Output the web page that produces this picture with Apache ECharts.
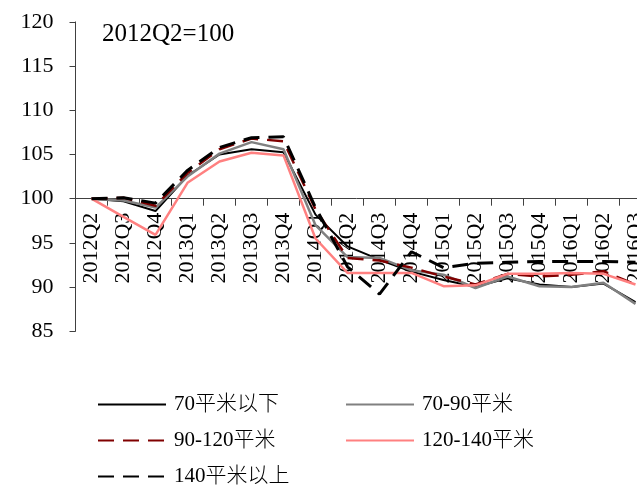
<!DOCTYPE html>
<html>
<head>
<meta charset="utf-8">
<script src="https://cdn.jsdelivr.net/npm/echarts@6/dist/echarts.min.js"></script>
<style>
html,body{margin:0;padding:0;background:#fff;}
#main{width:637px;height:485px;}
</style>
</head>
<body>
<div id="main"></div>
<script>
var categories = ['2012Q2','2012Q3','2012Q4','2013Q1','2013Q2','2013Q3','2013Q4','2014Q1','2014Q2','2014Q3','2014Q4','2015Q1','2015Q2','2015Q3','2015Q4','2016Q1','2016Q2','2016Q3'];
var under70   = [100, 99.7, 98.6, 102.6, 105.0, 105.6, 105.25, 98.2, 94.6, 93.1, 91.75, 90.8, 90.05, 91.0, 90.3, 90.0, 90.4, 88.3];
var s70to90   = [100, 99.8, 99.0, 102.5, 105.1, 106.4, 105.6, 97.0, 93.4, 93.3, 91.9, 91.4, 89.9, 91.2, 90.1, 90.0, 90.5, 88.1];
var s90to120  = [100, 100.1, 99.2, 102.9, 105.6, 106.8, 106.5, 98.8, 93.3, 93.0, 92.2, 91.2, 90.3, 91.5, 91.2, 91.4, 91.8, 90.3];
var s120to140 = [100, 97.95, 95.9, 101.8, 104.2, 105.2, 104.9, 95.5, 91.6, 91.6, 91.6, 90.1, 90.2, 91.5, 91.5, 91.6, 91.5, 90.3];
var over140   = [100, 100.1, 99.5, 103.2, 105.8, 106.9, 107.0, 99.0, 92.3, 89.2, 94.0, 92.2, 92.7, 92.8, 92.9, 92.9, 92.9, 92.8];
var seriesNames = ['70平米以下', '70-90平米', '90-120平米', '120-140平米', '140平米以上'];
var yTicks = [85, 90, 95, 100, 105, 110, 115, 120];
var baseLabel = '2012Q2=100';

var FONT = "'Liberation Serif', 'Times New Roman', 'Noto Sans CJK SC', serif";
var chart = echarts.init(document.getElementById('main'), null, {renderer: 'canvas'});

function legendAt(name, left, top) {
  return {
    data: [name], left: left, top: top, padding: 0,
    itemWidth: 68, itemHeight: 14,
    itemStyle: {color: 'rgba(0,0,0,0)', borderWidth: 0, opacity: 0},
    textStyle: {fontFamily: FONT, fontSize: 21, fontWeight: 300, color: '#000', padding: [0, 0, 0, 3]},
    selectedMode: false
  };
}

var option = {
  animation: false,
  backgroundColor: '#fff',
  title: {
    text: baseLabel, left: 102, top: 22, padding: 0,
    textStyle: {fontFamily: FONT, fontSize: 25, fontWeight: 'normal', color: '#000'}
  },
  legend: [
    legendAt(seriesNames[0], 97, 394),
    legendAt(seriesNames[1], 345, 394),
    legendAt(seriesNames[2], 97, 430),
    legendAt(seriesNames[3], 345, 430),
    legendAt(seriesNames[4], 97, 466)
  ],
  grid: {left: 75.5, width: 576, top: 21.9, bottom: 153.7, containLabel: false, outerBoundsMode: 'none'},
  xAxis: {
    type: 'category', data: categories, boundaryGap: true,
    position: 'bottom', offset: -132.6,
    axisLine: {onZero: false, lineStyle: {color: '#404040', width: 1}},
    axisTick: {show: true, length: 7, inside: false, lineStyle: {color: '#404040'}},
    axisLabel: {rotate: 90, margin: 14, interval: 0, fontFamily: FONT, fontSize: 22, color: '#000'},
    splitLine: {show: false}
  },
  yAxis: {
    type: 'value', min: yTicks[0], max: yTicks[yTicks.length - 1], interval: 5,
    axisLine: {show: true, lineStyle: {color: '#404040', width: 1}},
    axisTick: {show: true, length: 6, inside: false, lineStyle: {color: '#404040'}},
    axisLabel: {margin: 22, fontFamily: FONT, fontSize: 22, color: '#000'},
    splitLine: {show: false}
  },
  series: [
    {name: seriesNames[0], type: 'line', data: under70, symbol: 'none', lineStyle: {color: '#000000', width: 2}, itemStyle: {color: '#000000'}},
    {name: seriesNames[1], type: 'line', data: s70to90, symbol: 'none', lineStyle: {color: '#808080', width: 2.5}, itemStyle: {color: '#808080'}},
    {name: seriesNames[2], type: 'line', data: s90to120, symbol: 'none', lineStyle: {color: '#800000', width: 2.5, type: [16, 9]}, itemStyle: {color: '#800000'}},
    {name: seriesNames[3], type: 'line', data: s120to140, symbol: 'none', lineStyle: {color: '#FF8080', width: 2.5}, itemStyle: {color: '#FF8080'}},
    {name: seriesNames[4], type: 'line', data: over140, symbol: 'none', lineStyle: {color: '#000000', width: 3, type: [16, 9]}, itemStyle: {color: '#000000'}}
  ]
};
chart.setOption(option);
</script>
</body>
</html>
